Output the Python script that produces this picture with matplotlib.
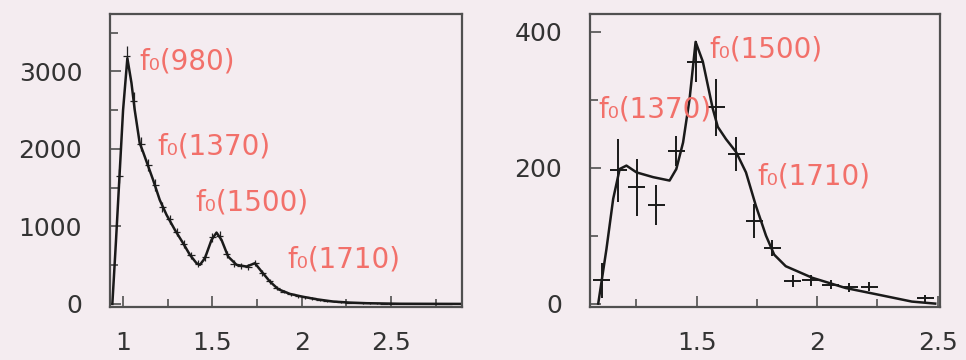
import numpy as np
import matplotlib.pyplot as plt
from matplotlib.ticker import MultipleLocator

# left panel: histogram (bin centres, counts, errors) and fit curve
left_x = [0.98, 1.02, 1.06, 1.10, 1.14, 1.18, 1.22, 1.26, 1.30, 1.34, 1.38, 1.42,
          1.46, 1.50, 1.54, 1.58, 1.62, 1.66, 1.70, 1.74, 1.78, 1.82, 1.86, 1.90,
          1.94, 1.98, 2.02, 2.06, 2.10, 2.14, 2.18, 2.22, 2.26, 2.30, 2.34, 2.38,
          2.42, 2.46, 2.50, 2.54, 2.58, 2.62, 2.66, 2.70, 2.74, 2.78, 2.82]
left_y = [1650, 3200, 2620, 2060, 1790, 1530, 1250, 1090, 930, 770, 630, 520,
          600, 860, 880, 640, 520, 490, 480, 530, 400, 290, 200, 160,
          125, 100, 85, 70, 55, 42, 32, 25, 18, 14, 10, 8,
          6, 5, 4, 3, 2, 2, 1, 1, 1, 0, 0]
left_err = [90, 130, 110, 90, 80, 75, 65, 60, 55, 50, 45, 40,
            45, 55, 55, 45, 40, 40, 40, 40, 35, 30, 25, 22,
            20, 18, 16, 15, 13, 12, 10, 9, 8, 7, 6, 5,
            4, 4, 4, 3, 3, 3, 2, 2, 2, 1, 1]

left_fit_x = [0.94, 0.96, 0.98, 1.00, 1.024, 1.047, 1.065, 1.093, 1.112, 1.168,
              1.205, 1.243, 1.290, 1.336, 1.374, 1.411, 1.430, 1.458, 1.495,
              1.523, 1.551, 1.588, 1.635, 1.691, 1.738, 1.775, 1.822, 1.869,
              1.934, 2.0, 2.083, 2.177, 2.270, 2.364, 2.55, 2.9]
left_fit_y = [0, 800, 1650, 2500, 3170, 2850, 2505, 2075, 1960, 1600,
              1343, 1150, 955, 783, 633, 525, 504, 590, 826,
              920, 826, 611, 504, 482, 525, 418, 288, 189,
              129, 95, 60, 30, 17, 9, 2, 0]

# right panel: data points with errors and fit curve
right_x = [1.106, 1.175, 1.251, 1.333, 1.416, 1.496, 1.581, 1.664, 1.740,
           1.815, 1.898, 1.974, 2.057, 2.133, 2.216, 2.449]
right_y = [34, 196, 171, 145, 225, 356, 289, 220, 122, 82, 33, 34, 28, 24, 25, 8]
right_err = [26, 46, 42, 30, 22, 30, 42, 25, 25, 12, 9, 8, 7, 7, 7, 5]

right_fit_x = [1.092, 1.126, 1.154, 1.181, 1.209, 1.251, 1.320, 1.388, 1.416,
               1.444, 1.471, 1.496, 1.526, 1.567, 1.588, 1.622, 1.664, 1.705,
               1.746, 1.788, 1.822, 1.870, 1.980, 2.118, 2.256, 2.393, 2.49]
right_fit_y = [0, 80, 154, 198, 203, 193, 186, 181, 198,
               237, 301, 385, 356, 287, 260, 242, 223, 193,
               144, 100, 72, 55, 38, 23, 13, 3, 0]

left_labels = [("f₀(980)", 1.094, 3123), ("f₀(1370)", 1.194, 2026),
               ("f₀(1500)", 1.402, 1303), ("f₀(1710)", 1.917, 568)]
right_labels = [("f₀(1500)", 1.554, 374), ("f₀(1370)", 1.091, 285),
                ("f₀(1710)", 1.752, 187)]

bg = "#f4ecf0"
red = "#f2706a"
frame = "#505050"

fig = plt.figure(figsize=(9.66, 3.6), dpi=100, facecolor=bg)
ax1 = fig.add_axes([0.1139, 0.1472, 0.3644, 0.8139], facecolor=bg)
ax2 = fig.add_axes([0.6108, 0.1472, 0.3623, 0.8139], facecolor=bg)

ax1.errorbar(left_x, left_y, yerr=left_err, xerr=0.02, fmt='none',
             ecolor='#222222', elinewidth=0.9)
ax1.plot(left_fit_x, left_fit_y, color='#1a1a1a', lw=1.8)
ax1.set_xlim(0.927, 2.897)
ax1.set_ylim(-40, 3740)
ax1.xaxis.set_minor_locator(MultipleLocator(0.25))
ax1.yaxis.set_minor_locator(MultipleLocator(500))
ax1.set_xticks([1, 1.5, 2, 2.5], ["1", "1.5", "2", "2.5"])
ax1.set_yticks([0, 1000, 2000, 3000], ["0", "1000", "2000", "3000"])

ax2.errorbar(right_x, right_y, yerr=right_err, xerr=0.035, fmt='none',
             ecolor='#1a1a1a', elinewidth=1.4)
ax2.plot(right_fit_x, right_fit_y, color='#1a1a1a', lw=1.8)
ax2.set_xlim(1.058, 2.51)
ax2.set_ylim(-5, 426)
ax2.xaxis.set_minor_locator(MultipleLocator(0.25))
ax2.yaxis.set_minor_locator(MultipleLocator(100))
ax2.set_xticks([1.5, 2, 2.5], ["1.5", "2", "2.5"])
ax2.set_yticks([0, 200, 400], ["0", "200", "400"])

for ax, labels in ((ax1, left_labels), (ax2, right_labels)):
    for s in ax.spines.values():
        s.set_color(frame)
        s.set_linewidth(1.6)
    ax.tick_params(which='both', direction='in', top=False, right=False,
                   color=frame, width=1.2, labelsize=18, labelcolor='#333333')
    ax.tick_params(axis='y', which='major', length=8, pad=20)
    ax.tick_params(axis='x', which='major', length=8, pad=17)
    ax.tick_params(which='minor', length=6)
    for txt, x, y in labels:
        ax.text(x, y, txt, color=red, fontsize=20, ha='left', va='center')

fig.savefig("out.png", dpi=100, facecolor=bg)
